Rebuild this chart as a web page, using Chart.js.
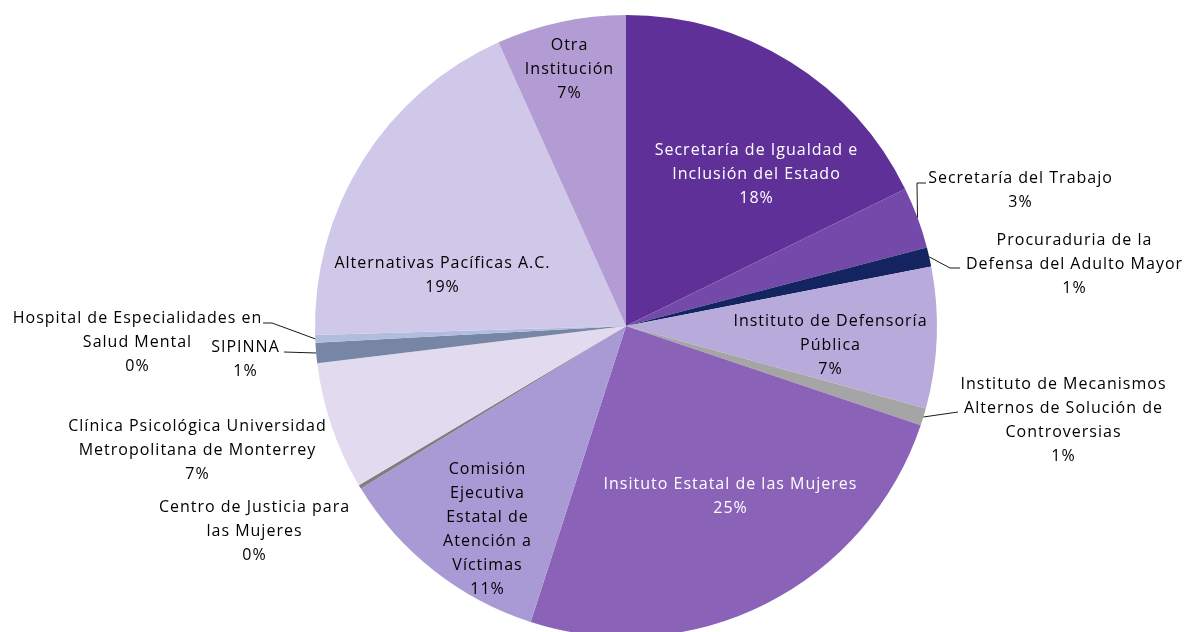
<!DOCTYPE html>
<html>
<head>
<meta charset="utf-8">
<script src="https://cdn.jsdelivr.net/npm/chart.js@4.4.0/dist/chart.umd.min.js"></script>
<style>
  html, body { margin: 0; padding: 0; background: #ffffff; overflow: hidden; width: 1185px; height: 632px; }
  #wrap { position: absolute; left: 0; top: 0; width: 1185px; height: 652px; }
</style>
</head>
<body>
<div id="wrap"><canvas id="c" width="1185" height="652"></canvas></div>
<script>
const categories = [
  "Secretaría de Igualdad e Inclusión del Estado",
  "Secretaría del Trabajo",
  "Procuraduria de la Defensa del Adulto Mayor",
  "Instituto de Defensoría Pública",
  "Instituto de Mecanismos Alternos de Solución de Controversias",
  "Insituto Estatal de las Mujeres",
  "Comisión Ejecutiva Estatal de Atención a Víctimas",
  "Centro de Justicia para las Mujeres",
  "Clínica Psicológica Universidad Metropolitana de Monterrey",
  "SIPINNA",
  "Hospital de Especialidades en Salud Mental",
  "Alternativas Pacíficas A.C.",
  "Otra Institución"
];
const values = [17.75, 3.2, 1.0, 7.35, 0.9, 24.8, 11.3, 0.2, 6.65, 1.05, 0.4, 18.75, 6.73];
const labelLines = [
  ["Secretaría de Igualdad e", "Inclusión del Estado"],
  ["Secretaría del Trabajo"],
  ["Procuraduria de la", "Defensa del Adulto Mayor"],
  ["Instituto de Defensoría", "Pública"],
  ["Instituto de Mecanismos", "Alternos de Solución de", "Controversias"],
  ["Insituto Estatal de las Mujeres"],
  ["Comisión", "Ejecutiva", "Estatal de", "Atención a", "Víctimas"],
  ["Centro de Justicia para", "las Mujeres"],
  ["Clínica Psicológica Universidad", "Metropolitana de Monterrey"],
  ["SIPINNA"],
  ["Hospital de Especialidades en", "Salud Mental"],
  ["Alternativas Pacíficas A.C."],
  ["Otra", "Institución"]
];
const colors = ["#5f3198", "#7349a9", "#142460", "#b8abdb", "#a5a5a5", "#8a62b7", "#a99ad6",
                "#7f7f7f", "#e2daee", "#7886a6", "#b1bdde", "#d0c8e9", "#b39bd3"];
const textColors = ["#ffffff", "#000000", "#000000", "#000000", "#000000", "#ffffff", "#000000",
                    "#000000", "#000000", "#000000", "#000000", "#000000", "#000000"];

// label block centres, pixel offsets from pie centre
const labelOffsets = [
  [130, -152], [394, -136], [448, -62], [204, 19], [437, 94], [104, 170], [-139, 203],
  [-372, 205], [-429, 124], [-381, 33], [-489, 16], [-184, -51], [-57, -257]
];
// leader line elbows (pixel offsets from pie centre); null = no leader
const leaders = [
  null, [[291, -143], [300, -143]], [[324, -58], [334, -58]], null, [[332, 86]], null, null,
  null, null, [[-342, 26]], [[-354, -3], [-363, -3]], null, null
];

const total = values.reduce((a, b) => a + b, 0);
const FONT = '16px "Open Sans", "DejaVu Sans", sans-serif';
const LINE_H = 24;

const labelPlugin = {
  id: 'pieLabels',
  afterDatasetsDraw(chart) {
    const ctx = chart.ctx;
    const meta = chart.getDatasetMeta(0);
    ctx.save();
    ctx.font = FONT;
    if ('letterSpacing' in ctx) ctx.letterSpacing = '1px';
    ctx.textAlign = 'center';
    ctx.textBaseline = 'middle';
    meta.data.forEach((arc, i) => {
      const p = arc.getProps(['x', 'y', 'startAngle', 'endAngle', 'outerRadius'], true);
      const cx = p.x, cy = p.y;
      if (leaders[i]) {
        const mid = (p.startAngle + p.endAngle) / 2;
        ctx.beginPath();
        ctx.strokeStyle = '#1a1a1a';
        ctx.lineWidth = 1;
        ctx.moveTo(cx + p.outerRadius * Math.cos(mid), cy + p.outerRadius * Math.sin(mid));
        leaders[i].forEach(pt => ctx.lineTo(cx + pt[0], cy + pt[1]));
        ctx.stroke();
      }
      const lines = labelLines[i].concat([Math.round(values[i] / total * 100) + '%']);
      const lx = cx + labelOffsets[i][0] + 0.5;
      const ly = cy + labelOffsets[i][1];
      const top = ly - (lines.length - 1) * LINE_H / 2;
      ctx.fillStyle = textColors[i];
      lines.forEach((t, k) => ctx.fillText(t, lx, top + k * LINE_H));
    });
    ctx.restore();
  }
};

new Chart(document.getElementById('c'), {
  type: 'pie',
  data: {
    labels: categories,
    datasets: [{ data: values, backgroundColor: colors, borderWidth: 0 }]
  },
  options: {
    responsive: false,
    animation: false,
    layout: { padding: { left: 67, right: 0, top: 15, bottom: 15 } },
    plugins: { legend: { display: false }, tooltip: { enabled: false } }
  },
  plugins: [labelPlugin]
});
</script>
</body>
</html>
